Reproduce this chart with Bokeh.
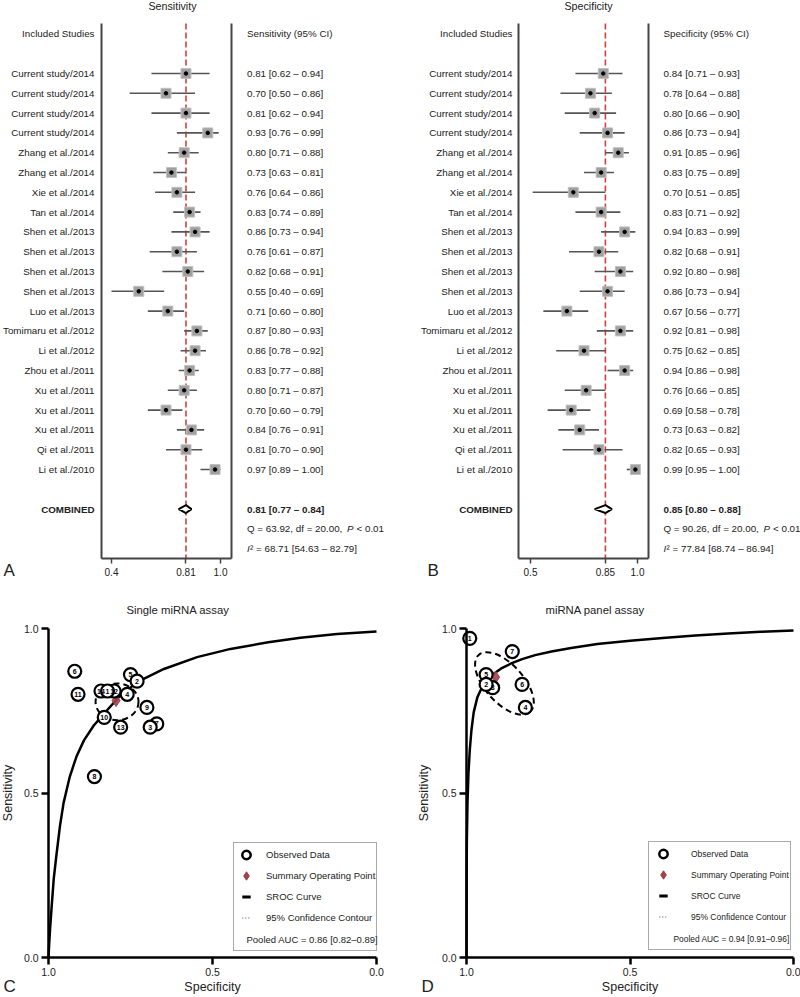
import math
import numpy as np
from bokeh.plotting import figure
from bokeh.models import (Range1d, FixedTicker, Legend, LegendItem,
                          ColumnDataSource, PrintfTickFormatter)
from bokeh.layouts import column, row
from bokeh.embed import file_html
from bokeh.resources import INLINE
from bokeh.core.properties import value

FONT = "Liberation Sans"
INK = "#222222"
MAROON = "#a3404a"

# ---------------- data ----------------
studies = ["Current study/2014", "Current study/2014", "Current study/2014", "Current study/2014",
           "Zhang et al./2014", "Zhang et al./2014", "Xie et al./2014", "Tan et al./2014",
           "Shen et al./2013", "Shen et al./2013", "Shen et al./2013", "Shen et al./2013",
           "Luo et al./2013", "Tomimaru et al./2012", "Li et al./2012", "Zhou et al./2011",
           "Xu et al./2011", "Xu et al./2011", "Xu et al./2011", "Qi et al./2011", "Li et al./2010"]
sens_est = [0.81, 0.70, 0.81, 0.93, 0.80, 0.73, 0.76, 0.83, 0.86, 0.76, 0.82, 0.55, 0.71, 0.87, 0.86, 0.83, 0.80, 0.70, 0.84, 0.81, 0.97]
sens_lo = [0.62, 0.50, 0.62, 0.76, 0.71, 0.63, 0.64, 0.74, 0.73, 0.61, 0.68, 0.40, 0.60, 0.80, 0.78, 0.77, 0.71, 0.60, 0.76, 0.70, 0.89]
sens_hi = [0.94, 0.86, 0.94, 0.99, 0.88, 0.81, 0.86, 0.89, 0.94, 0.87, 0.91, 0.69, 0.80, 0.93, 0.92, 0.88, 0.87, 0.79, 0.91, 0.90, 1.00]
spec_est = [0.84, 0.78, 0.80, 0.86, 0.91, 0.83, 0.70, 0.83, 0.94, 0.82, 0.92, 0.86, 0.67, 0.92, 0.75, 0.94, 0.76, 0.69, 0.73, 0.82, 0.99]
spec_lo = [0.71, 0.64, 0.66, 0.73, 0.85, 0.75, 0.51, 0.71, 0.83, 0.68, 0.80, 0.73, 0.56, 0.81, 0.62, 0.86, 0.66, 0.58, 0.63, 0.65, 0.95]
spec_hi = [0.93, 0.88, 0.90, 0.94, 0.96, 0.89, 0.85, 0.92, 0.99, 0.91, 0.98, 0.94, 0.77, 0.98, 0.85, 0.98, 0.85, 0.78, 0.82, 0.93, 1.00]
assay = ["single", "single", "single", "panel", "single", "single", "single", "panel",
         "panel", "panel", "panel", "single", "single", "single", "single", "panel",
         "single", "single", "single", "single", "panel"]

sens_pooled = [0.81, 0.77, 0.84]
spec_pooled = [0.85, 0.80, 0.88]
sens_q = [63.92, 20.00, "0.01"]
spec_q = [90.26, 20.00, "0.01"]
sens_i2 = [68.71, 54.63, 82.79]
spec_i2 = [77.84, 68.74, 86.94]

sens_ticks = [0.4, 0.81, 1.0]
sens_tick_labels = ["0.4", "0.81", "1.0"]
spec_ticks = [0.5, 0.85, 1.0]
spec_tick_labels = ["0.5", "0.85", "1.0"]

# SROC (specificity, sensitivity)
single_summary = [0.794, 0.781]
panel_summary = [0.911, 0.852]
single_contour = [0.791, 0.777, 0.131, 0.112, 0.0]    # centre spec, centre sens, width, height, angle(deg)
panel_contour = [0.884, 0.833, 0.235, 0.116, -48.0]
single_auc = "Pooled AUC = 0.86 [0.82\u20130.89]"
panel_auc = "Pooled AUC = 0.94 [0.91\u20130.96]"

single_curve_spec = [1.0, 0.998, 0.995, 0.99, 0.984, 0.976, 0.965, 0.954, 0.935, 0.915, 0.892, 0.862,
                     0.831, 0.786, 0.73, 0.648, 0.547, 0.445, 0.33, 0.232, 0.12, 0.0]
single_curve_sens = [0.0, 0.04, 0.09, 0.16, 0.24, 0.31, 0.40, 0.47, 0.55, 0.61, 0.66, 0.705,
                     0.741, 0.791, 0.837, 0.877, 0.913, 0.938, 0.958, 0.972, 0.983, 0.991]
panel_curve_spec = [1.0, 0.9995, 0.999, 0.997, 0.994, 0.99, 0.985, 0.978, 0.967, 0.957, 0.94, 0.92,
                    0.895, 0.865, 0.83, 0.79, 0.74, 0.68, 0.6, 0.5, 0.4, 0.3, 0.2, 0.1, 0.0]
panel_curve_sens = [0.0, 0.25, 0.35, 0.47, 0.56, 0.63, 0.69, 0.745, 0.79, 0.812, 0.838, 0.86,
                    0.878, 0.893, 0.907, 0.919, 0.93, 0.941, 0.953, 0.963, 0.971, 0.979, 0.985, 0.99, 0.994]

sroc_ticks = [0.0, 0.5, 1.0]

# ---------------- layout helpers (page pixels -> data units) ----------------
TOP_H = 588
BOT_H = 408
PANEL_W = 400


def lin(a_val, a_px, b_val, b_px):
    k = (b_px - a_px) / (b_val - a_val)
    return lambda px: a_val + (px - a_px) / k


row_at = lin(0.0, 73.0, 20.0, 469.0)


def style_text(size, **kw):
    d = dict(text_font=value(FONT), text_font_size=size, text_color=INK)
    d.update(kw)
    return d


def forest(est, lo, hi, pooled, q, i2, ticks, tick_labels, cal, box_px, left_px,
           title, title_px, header, q_px, name_px, letter, letter_px):
    xv = lin(cal[0][0], cal[0][1], cal[1][0], cal[1][1])
    bl, br = xv(box_px[0]), xv(box_px[1])
    y_axis = row_at(558)
    box_top = row_at(23)

    p = figure(width=PANEL_W, height=TOP_H,
               x_range=Range1d(xv(left_px), xv(left_px + PANEL_W)),
               y_range=Range1d(row_at(TOP_H), row_at(0)),
               output_backend="svg", toolbar_location=None, title=None,
               y_axis_location=None, min_border=0)
    p.grid.visible = False
    p.outline_line_color = None

    rows = list(range(len(est)))
    src = ColumnDataSource(dict(
        y=rows, est=est, lo=lo, hi=hi, name=studies,
        txt=[f"{e:.2f} [{l:.2f} \u2013 {h:.2f}]" for e, l, h in zip(est, lo, hi)]))

    p.segment(x0=[bl, br], y0=[box_top, box_top], x1=[bl, br], y1=[y_axis, y_axis],
              line_color="#444444", line_width=2)
    p.segment(x0=[pooled[0]], y0=[box_top], x1=[pooled[0]], y1=[y_axis],
              line_color="#d0403a", line_width=1.6, line_dash="6 3")
    p.segment(x0="lo", y0="y", x1="hi", y1="y", source=src, line_color="#555555", line_width=1.6)
    p.scatter("est", "y", source=src, marker="square", size=10, fill_color="#a0a0a0",
              line_color="#c0c0c0", line_width=1)
    p.scatter("est", "y", source=src, marker="circle", size=3.5, fill_color="black", line_color="black")

    comb_row = 22
    h = 0.2
    p.patch(x=[pooled[1], pooled[0], pooled[2], pooled[0], pooled[1]],
            y=[comb_row, comb_row - h, comb_row, comb_row + h, comb_row],
            fill_color="white", line_color="black", line_width=2)

    body = style_text("9.8px", text_baseline="middle")
    p.text(x=xv(name_px), y="y", text="name", source=src, text_align="right", **body)
    p.text(x=xv(q_px), y="y", text="txt", source=src, text_align="left", **body)
    p.text(x=[xv(name_px)], y=[-2], text=["Included Studies"], text_align="right", **body)
    p.text(x=[xv(q_px)], y=[-2], text=[header], text_align="left", **body)
    p.text(x=[xv(title_px)], y=[row_at(5.5)], text=[title], text_align="center",
           **style_text("10.7px", text_baseline="middle"))
    p.text(x=[xv(name_px)], y=[comb_row], text=["COMBINED"], text_align="right",
           text_font_style="bold", **body)
    p.text(x=[xv(q_px)], y=[comb_row], text=[f"{pooled[0]:.2f} [{pooled[1]:.2f} \u2013 {pooled[2]:.2f}]"],
           text_align="left", text_font_style="bold", **body)
    p.text(x=[xv(q_px)], y=[comb_row + 1], text=[f"Q = {q[0]:.2f}, df = {q[1]:.2f}, "],
           text_align="left", **body)
    p.text(x=[xv(q_px + 100)], y=[comb_row + 1], text=["P"], text_align="left",
           text_font_style="italic", **body)
    p.text(x=[xv(q_px + 109.5)], y=[comb_row + 1], text=[f"<  {q[2]}"], text_align="left", **body)
    p.text(x=[xv(q_px)], y=[comb_row + 2], text=["I"], text_align="left",
           text_font_style="italic", **body)
    p.text(x=[xv(q_px + 3)], y=[comb_row + 2],
           text=[f"\u00b2 = {i2[0]:.2f} [{i2[1]:.2f} \u2013 {i2[2]:.2f}]"], text_align="left", **body)
    p.text(x=[xv(letter_px)], y=[row_at(570)], text=[letter], text_align="left",
           **style_text("17px", text_baseline="middle"))

    ax = p.xaxis[0]
    ax.fixed_location = y_axis
    ax.ticker = FixedTicker(ticks=ticks)
    ax.major_label_overrides = {t: l for t, l in zip(ticks, tick_labels)}
    ax.bounds = (bl, br)
    ax.axis_line_width = 2
    ax.axis_line_color = "#444444"
    ax.major_tick_line_width = 1.5
    ax.major_tick_line_color = "#444444"
    ax.major_tick_out = 5
    ax.major_tick_in = 0
    ax.minor_tick_line_color = None
    ax.major_label_text_font = FONT
    ax.major_label_text_font_size = "10px"
    ax.major_label_text_color = INK
    ax.major_label_standoff = 4
    return p


def sroc(group, summary, contour, curve_spec, curve_sens, title, auc, letter,
         x_cal, left_px, title_px, ylabel_px, letter_px, legend_px, glyph_w, standoff,
         legend_fs, auc_px, auc_fs):
    idx = [i for i, a in enumerate(assay) if a == group]
    n = len(idx)
    sp = [spec_est[i] for i in idx]
    se = [sens_est[i] for i in idx]
    nums = [str(n - j) for j in range(n)]

    xv = lin(1.0, x_cal[0], 0.0, x_cal[1])
    yv = lin(1.0, 628.0, 0.0, 957.0)
    top = TOP_H
    bottom = TOP_H + BOT_H

    p = figure(width=PANEL_W, height=BOT_H,
               x_range=Range1d(xv(left_px), xv(left_px + PANEL_W)),
               y_range=Range1d(yv(bottom), yv(top)),
               output_backend="svg", toolbar_location=None, title=None, min_border=0)
    p.grid.visible = False
    p.outline_line_color = None

    for ax in (p.xaxis[0], p.yaxis[0]):
        ax.ticker = FixedTicker(ticks=sroc_ticks)
        ax.formatter = PrintfTickFormatter(format="%.1f")
        ax.bounds = (0.0, 1.0)
        ax.axis_line_width = 2.5
        ax.axis_line_color = "black"
        ax.major_tick_line_width = 2.5
        ax.major_tick_line_color = "black"
        ax.major_tick_out = 7
        ax.major_tick_in = 0
        ax.minor_tick_line_color = None
        ax.major_label_text_font = FONT
        ax.major_label_text_font_size = "10.5px"
        ax.major_label_text_color = INK
        ax.major_label_standoff = 3
    p.xaxis[0].fixed_location = 0.0
    p.yaxis[0].fixed_location = 1.0

    p.line(curve_spec, curve_sens, line_color="black", line_width=2.5)
    p.ellipse(x=[contour[0]], y=[contour[1]], width=[contour[2]], height=[contour[3]],
              angle=[contour[4]], angle_units="deg", fill_color=None, line_color="black",
              line_width=2, line_dash="6 4")
    p.scatter([summary[0]], [summary[1]], marker="diamond", size=12, fill_color=MAROON,
              line_color=MAROON, fill_alpha=0.9)
    p.scatter(sp, se, marker="circle", size=13, fill_color="white", line_color="black", line_width=2.2)
    p.text(sp, se, text=nums, text_align="center", text_font_style="bold",
           **style_text("7px", text_baseline="middle", text_color="black"))

    # texts
    p.text(x=[xv(title_px)], y=[yv(609)], text=[title], text_align="left",
           **style_text("11.3px", text_baseline="middle"))
    p.text(x=[xv(ylabel_px)], y=[0.5], text=["Sensitivity"], angle=math.pi / 2, text_align="center",
           **style_text("12.5px", text_baseline="middle"))
    p.text(x=[0.5], y=[yv(986)], text=["Specificity"], text_align="center",
           **style_text("12.5px", text_baseline="middle"))
    p.text(x=[xv(letter_px)], y=[yv(986)], text=[letter], text_align="left",
           **style_text("17px", text_baseline="middle"))
    p.text(x=[xv(auc_px[0])], y=[yv(auc_px[1])], text=[auc], text_align="left",
           **style_text(auc_fs, text_baseline="middle"))

    nan = np.array([np.nan])
    r_obs = p.scatter(nan, nan, marker="circle", size=10, fill_color="white", line_color="black", line_width=2.5)
    r_sum = p.scatter(nan, nan, marker="diamond", size=10, fill_color=MAROON, line_color=MAROON)
    r_cur = p.scatter(nan, nan, marker="dash", size=10, line_color="black", line_width=3)
    r_ci = p.scatter(nan, nan, marker="dash", size=10, line_color="#888888", line_width=1.5, line_dash="1 2")
    r_blank = p.scatter(nan, nan, marker="circle", size=1, fill_alpha=0, line_alpha=0)
    legend = Legend(items=[LegendItem(label="Observed Data", renderers=[r_obs]),
                           LegendItem(label="Summary Operating Point", renderers=[r_sum]),
                           LegendItem(label="SROC Curve", renderers=[r_cur]),
                           LegendItem(label="95% Confidence Contour", renderers=[r_ci]),
                           LegendItem(label=" ", renderers=[r_blank])],
                    location=(legend_px[0] - left_px, bottom - legend_px[1]),
                    orientation="vertical", margin=0, padding=1, spacing=0,
                    glyph_width=glyph_w, glyph_height=21, label_height=21,
                    label_standoff=standoff, label_text_font=FONT,
                    label_text_font_size=legend_fs, label_text_color=INK,
                    border_line_color="#555555", border_line_width=1.5,
                    background_fill_alpha=0.0)
    p.add_layout(legend)
    return p


pA = forest(sens_est, sens_lo, sens_hi, sens_pooled, sens_q, sens_i2, sens_ticks, sens_tick_labels,
            ((0.4, 111.0), (1.0, 220.0)), (101.0, 231.0), 0.0,
            "Sensitivity", 172.0, "Sensitivity (95% CI)", 246.5, 94.0, "A", 3.0)
pB = forest(spec_est, spec_lo, spec_hi, spec_pooled, spec_q, spec_i2, spec_ticks, spec_tick_labels,
            ((0.5, 530.0), (1.0, 637.0)), (518.0, 648.0), 400.0,
            "Specificity", 588.0, "Specificity (95% CI)", 663.0, 512.0, "B", 427.0)
pC = sroc("single", single_summary, single_contour, single_curve_spec, single_curve_sens,
          "Single miRNA assay", single_auc, "C", (48.0, 376.0), 0.0, 126.0, 7.0, 3.0,
          (233.0, 951.0), 22, 9, "9.5px", (246.0, 939.0), "9.5px")
pD = sroc("panel", panel_summary, panel_contour, panel_curve_spec, panel_curve_sens,
          "miRNA panel assay", panel_auc, "D", (466.0, 793.0), 400.0, 545.0, 423.0, 421.0,
          (648.0, 950.0), 26, 15, "8.5px", (673.0, 938.0), "8.4px")

layout = column(row(pA, pB), row(pC, pD))
open("out.html", "w").write(file_html(layout, INLINE))
